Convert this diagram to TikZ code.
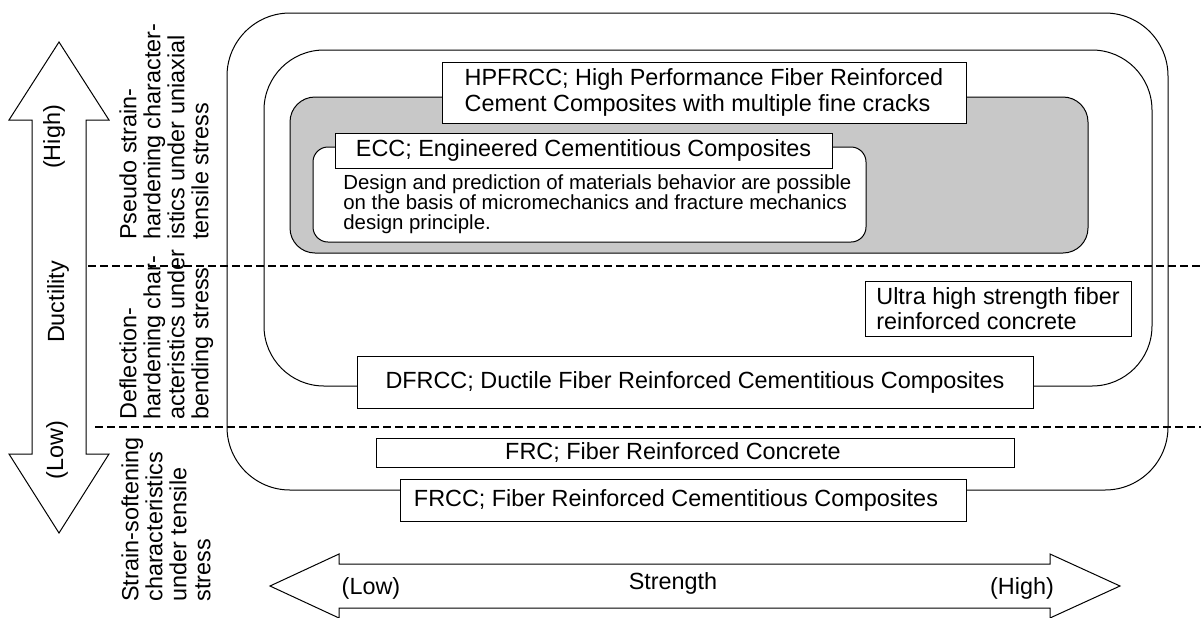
\documentclass[tikz,border=0pt]{standalone}
\usepackage{fontspec}
\setmainfont{Liberation Sans}
\definecolor{eccgray}{RGB}{200,200,200}
\begin{document}
\begin{tikzpicture}[x=0.5pt,y=-0.5pt,
    box/.style={draw, fill=white, line width=0.5pt, inner sep=0pt, font=\fontsize{11.7}{13}\selectfont},
    side/.style={rotate=90, anchor=north west, align=left, inner sep=0pt, font=\fontsize{11.7}{12}\selectfont},
    lbl/.style={inner sep=0pt, font=\fontsize{11.7}{13}\selectfont},
    divider/.style={line width=1pt, dash pattern=on 4pt off 2pt}]
    \useasboundingbox (0,0) rectangle (1201,617);
    % envelopes
    \draw[line width=0.5pt, rounded corners=31.5pt] (227,13) rectangle (1168,490);
    \draw[line width=0.5pt, rounded corners=30pt] (264,50) rectangle (1152,386);
    \draw[line width=0.5pt, rounded corners=12.5pt, fill=eccgray] (290,97) rectangle (1088,253);
    \draw[line width=0.5pt, rounded corners=7.5pt, fill=white] (313,147) rectangle (866,242);
    % dividers
    \draw[divider] (88,266) -- (1201,266);
    \draw[divider] (95,427) -- (1201,427);
    % arrows
    \draw[line width=0.5pt] (59,42) -- (109,120) -- (86,120) -- (86,454) -- (109,454) -- (59,533)
        -- (9,454) -- (32,454) -- (32,120) -- (9,120) -- cycle;
    \draw[line width=0.5pt] (270,586) -- (339,554) -- (339,564) -- (1050,564) -- (1050,554) -- (1120,586)
        -- (1050,618) -- (1050,608) -- (339,608) -- (339,618) -- cycle;
    % boxes
    \node[box, minimum width=262pt, minimum height=30.5pt, align=left] (hpfrcc) at (704,92.5)
        {HPFRCC; High Performance Fiber Reinforced\\Cement Composites with multiple fine cracks};
    \node[box, minimum width=248.5pt, minimum height=17.5pt] (ecc) at (583.5,150.5)
        {ECC; Engineered Cementitious Composites};
    \node[anchor=north west, align=left, inner sep=0pt, font=\fontsize{10.2}{10}\selectfont] (eccnote) at (343,174)
        {Design and prediction of materials behavior are possible\\on the basis of micromechanics and fracture mechanics\\design principle.};
    \node[box, minimum width=133pt, minimum height=27.5pt, align=left, font=\fontsize{11.7}{12.5}\selectfont] (uhfrc) at (998,308.5)
        {Ultra high strength fiber\\reinforced concrete};
    \node[box, minimum width=338pt, minimum height=26pt] (dfrcc) at (695,382)
        {DFRCC; Ductile Fiber Reinforced Cementitious Composites};
    \node[box, minimum width=319pt, minimum height=14.5pt] (frc) at (695,452.5)
        {FRC; Fiber Reinforced Concrete\hspace*{22pt}};
    \node[box, minimum width=283pt, minimum height=21pt] (frcc) at (683,500)
        {FRCC; Fiber Reinforced Cementitious Composites\hspace*{7pt}};
    % labels
    \node[lbl, rotate=90] (high) at (54,137) {(High)};
    \node[lbl, rotate=90] (ductility) at (58,302) {Ductility};
    \node[lbl, rotate=90] (low) at (57,450) {(Low)};
    \node[lbl] (slow) at (371,588) {(Low)};
    \node[lbl] (strength) at (673,583) {Strength};
    \node[lbl] (shigh) at (1022,588) {(High)};
    \node[side] (pseudo) at (119,240)
        {Pseudo strain-\\hardening character-\\istics under uniaxial\\tensile stress};
    \node[side] (deflect) at (119,420)
        {Deflection-\\hardening char-\\acteristics under\\bending stress};
    \node[side] (soft) at (121,602)
        {Strain-softening\\characteristics\\under tensile\\stress};
\end{tikzpicture}
\end{document}
